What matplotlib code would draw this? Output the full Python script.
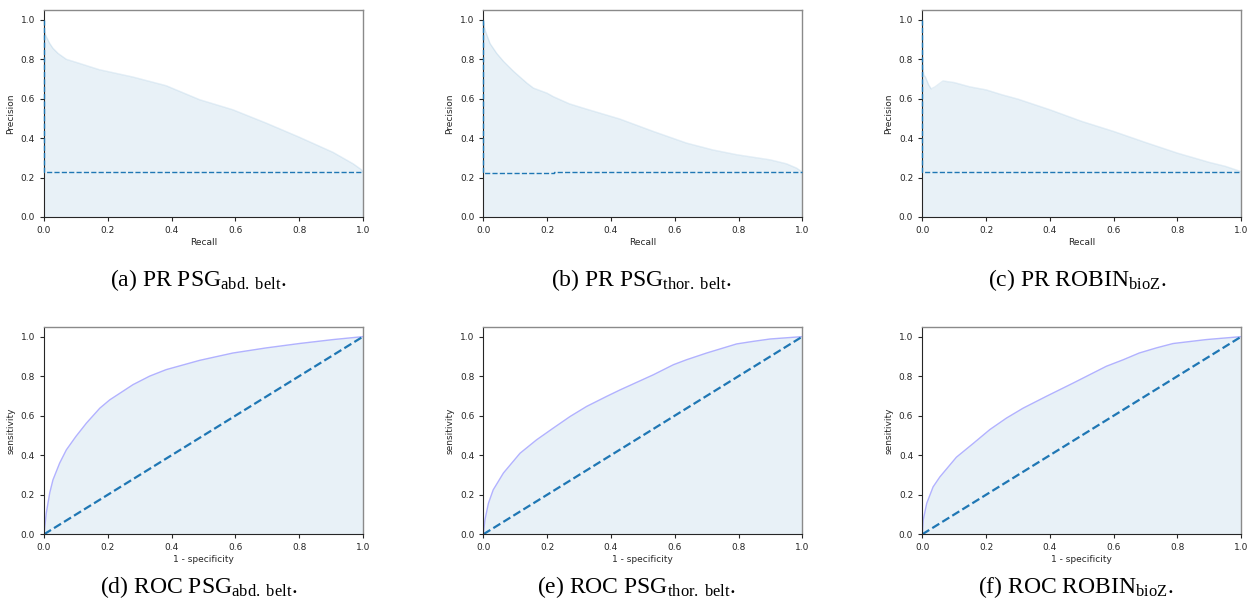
import numpy as np
import matplotlib.pyplot as plt

plt.rcParams['mathtext.fontset'] = 'custom'
plt.rcParams['mathtext.rm'] = 'Liberation Serif'
plt.rcParams['mathtext.it'] = 'Liberation Serif:italic'

# precision-recall curves (recall, precision)
pr_a_recall = [0.0, 0.0, 0.007, 0.018, 0.028, 0.044, 0.07, 0.10, 0.174, 0.279, 0.383, 0.488,
               0.592, 0.697, 0.80, 0.906, 0.969, 0.995, 1.0]
pr_a_prec = [1.0, 0.95, 0.915, 0.88, 0.856, 0.83, 0.80, 0.785, 0.747, 0.71, 0.666, 0.595,
             0.544, 0.476, 0.405, 0.328, 0.27, 0.24, 0.228]

pr_b_recall = [0.0, 0.005, 0.021, 0.042, 0.063, 0.094, 0.136, 0.157, 0.20, 0.22, 0.27, 0.324,
               0.428, 0.533, 0.637, 0.72, 0.794, 0.899, 0.95, 0.982, 0.998, 1.0]
pr_b_prec = [1.0, 0.95, 0.88, 0.83, 0.79, 0.74, 0.68, 0.654, 0.628, 0.61, 0.574, 0.547,
             0.497, 0.434, 0.375, 0.34, 0.316, 0.29, 0.27, 0.248, 0.23, 0.226]

pr_c_recall = [0.0, 0.002, 0.005, 0.01, 0.02, 0.028, 0.04, 0.065, 0.10, 0.15, 0.20, 0.25, 0.30,
               0.40, 0.50, 0.60, 0.70, 0.80, 0.90, 0.95, 1.0]
pr_c_prec = [1.0, 0.76, 0.72, 0.71, 0.67, 0.65, 0.66, 0.69, 0.682, 0.66, 0.645, 0.62, 0.598,
             0.544, 0.485, 0.434, 0.378, 0.324, 0.277, 0.257, 0.23]

# no-skill baselines for the PR plots
ns_a_recall = [0.0, 0.0, 1.0]
ns_a_prec = [1.0, 0.227, 0.227]
ns_b_recall = [0.0, 0.0, 0.22, 0.22, 1.0]
ns_b_prec = [1.0, 0.223, 0.223, 0.226, 0.226]
ns_c_recall = [0.0, 0.0, 0.22, 0.22, 1.0]
ns_c_prec = [1.0, 0.23, 0.23, 0.226, 0.226]

# ROC curves (1 - specificity, sensitivity)
roc_d_fpr = [0.0, 0.007, 0.018, 0.028, 0.049, 0.07, 0.10, 0.133, 0.175, 0.206, 0.279, 0.331,
             0.383, 0.488, 0.592, 0.697, 0.80, 0.906, 1.0]
roc_d_tpr = [0.0, 0.106, 0.21, 0.275, 0.36, 0.427, 0.495, 0.5625, 0.638, 0.68, 0.757, 0.80,
             0.833, 0.88, 0.917, 0.943, 0.965, 0.985, 1.0]

roc_e_fpr = [0.0, 0.005, 0.016, 0.031, 0.063, 0.115, 0.167, 0.219, 0.272, 0.324, 0.387, 0.428,
             0.533, 0.596, 0.637, 0.70, 0.794, 0.846, 0.899, 1.0]
roc_e_tpr = [0.0, 0.073, 0.157, 0.225, 0.31, 0.41, 0.478, 0.537, 0.596, 0.647, 0.698, 0.73,
             0.807, 0.858, 0.883, 0.917, 0.963, 0.976, 0.988, 1.0]

roc_f_fpr = [0.0, 0.003, 0.014, 0.034, 0.055, 0.107, 0.16, 0.212, 0.264, 0.316, 0.389, 0.473,
             0.577, 0.63, 0.68, 0.734, 0.786, 0.89, 1.0]
roc_f_tpr = [0.0, 0.073, 0.157, 0.24, 0.29, 0.39, 0.46, 0.53, 0.588, 0.638, 0.698, 0.765,
             0.85, 0.883, 0.917, 0.943, 0.965, 0.985, 1.0]

captions = [r'(a) PR PSG$_{\mathrm{abd.\ belt}}$.', r'(b) PR PSG$_{\mathrm{thor.\ belt}}$.',
            r'(c) PR ROBIN$_{\mathrm{bioZ}}$.', r'(d) ROC PSG$_{\mathrm{abd.\ belt}}$.',
            r'(e) ROC PSG$_{\mathrm{thor.\ belt}}$.', r'(f) ROC ROBIN$_{\mathrm{bioZ}}$.']

pr_data = [(pr_a_recall, pr_a_prec, ns_a_recall, ns_a_prec),
           (pr_b_recall, pr_b_prec, ns_b_recall, ns_b_prec),
           (pr_c_recall, pr_c_prec, ns_c_recall, ns_c_prec)]
roc_data = [(roc_d_fpr, roc_d_tpr), (roc_e_fpr, roc_e_tpr), (roc_f_fpr, roc_f_tpr)]

fig = plt.figure(figsize=(12.57, 6.10), dpi=100)
lefts = [0.035, 0.3845, 0.7337]
width = 0.2538


def style_axes(ax, xlabel, ylabel):
    ax.set_xlim(0, 1)
    ax.set_ylim(0, 1.05)
    ax.set_xticks(np.arange(0, 1.01, 0.2))
    ax.set_yticks(np.arange(0, 1.01, 0.2))
    ax.tick_params(labelsize=6.5, length=3, width=0.8, colors='#262626')
    ax.set_xlabel(xlabel, fontsize=6.5, labelpad=2, color='#262626')
    ax.set_ylabel(ylabel, fontsize=6.5, labelpad=4, color='#262626')
    for s in ('top', 'right'):
        ax.spines[s].set_color('#8a8a8a')
        ax.spines[s].set_linewidth(1.0)
    for s in ('left', 'bottom'):
        ax.spines[s].set_color('#262626')
        ax.spines[s].set_linewidth(0.8)


# top row: precision-recall
for i, (rec, prec, nrec, nprec) in enumerate(pr_data):
    ax = fig.add_axes([lefts[i], 0.6443, width, 0.3393])
    ax.plot(rec, prec, color='tab:blue', alpha=0.12, lw=1)
    ax.fill_between(rec, prec, color='tab:blue', alpha=0.1, lw=0)
    ax.plot(nrec, nprec, '--', color='tab:blue', lw=1.0, clip_on=False, zorder=3)
    style_axes(ax, 'Recall', 'Precision')

# bottom row: ROC
for i, (fpr, tpr) in enumerate(roc_data):
    ax = fig.add_axes([lefts[i], 0.1241, width, 0.3403])
    ax.plot(fpr, tpr, color='b', alpha=0.3, lw=1)
    ax.fill_between(fpr, tpr, color='tab:blue', alpha=0.1, lw=0)
    ax.plot([0, 1], [0, 1], '--', color='tab:blue', lw=1.6)
    style_axes(ax, '1 - specificity', 'sensitivity')

cap_x = [0.158, 0.5103, 0.8568, 0.158, 0.5064, 0.856]
cap_y = [0.531, 0.531, 0.531, 0.028, 0.028, 0.028]
for txt, x, y in zip(captions, cap_x, cap_y):
    fig.text(x, y, txt, ha='center', va='baseline', fontsize=17,
             family='Liberation Serif')

fig.savefig('out.png', dpi=100)
